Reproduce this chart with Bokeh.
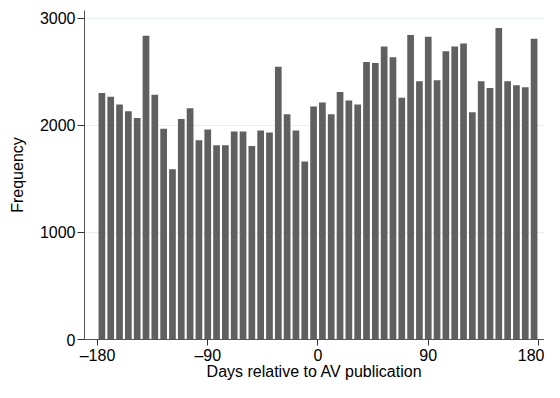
from bokeh.plotting import figure
from bokeh.models import FixedTicker, Range1d, CustomJSTickFormatter
from bokeh.embed import file_html
from bokeh.resources import INLINE

# Histogram: 50 bins of 7.2 days from -180 to 180
bin_start = -180.0
bin_width = 7.2
counts = [2304, 2268, 2196, 2132, 2069, 2837, 2286, 1970, 1590, 2060,
          2160, 1861, 1961, 1816, 1816, 1943, 1943, 1807, 1952, 1934,
          2548, 2105, 1952, 1663, 2178, 2214, 2105, 2313, 2232, 2196,
          2593, 2584, 2738, 2638, 2259, 2846, 2413, 2828, 2422, 2693,
          2738, 2765, 2123, 2413, 2349, 2910, 2413, 2376, 2358, 2810]
x_ticks = [-180, -90, 0, 90, 180]
y_ticks = [0, 1000, 2000, 3000]

centers = [bin_start + bin_width * (i + 0.5) for i in range(len(counts))]

FONT = "Liberation Sans"

p = figure(width=544, height=382, output_backend="svg", toolbar_location=None,
           x_range=Range1d(-190.6, 184.9), y_range=Range1d(0, 3074),
           min_border_left=84, min_border_right=0, min_border_top=10,
           background_fill_color="white", border_fill_color="white")
p.outline_line_color = None

p.vbar(x=centers, top=counts, width=bin_width * 0.76, bottom=0,
       fill_color="#606060", line_color=None)

# grid
p.xgrid.visible = False
p.ygrid.ticker = FixedTicker(ticks=y_ticks)
p.ygrid.grid_line_color = "#e6eff1"
p.ygrid.grid_line_width = 1

for ax in (p.xaxis[0], p.yaxis[0]):
    ax.axis_line_color = "#555555"
    ax.axis_line_width = 1
    ax.major_tick_line_color = "#333333"
    ax.major_tick_in = 0
    ax.major_tick_out = 7
    ax.minor_tick_out = 0
    ax.minor_tick_in = 0
    ax.major_label_text_font = FONT
    ax.major_label_text_font_size = "16px"
    ax.major_label_text_color = "black"
    ax.axis_label_text_font = FONT
    ax.axis_label_text_font_size = "16px"
    ax.axis_label_text_font_style = "normal"
    ax.axis_label_text_color = "black"
    ax.major_label_standoff = 2

p.xaxis.major_tick_out = 6
p.xaxis.major_label_standoff = 1
p.xaxis.ticker = FixedTicker(ticks=x_ticks)
p.yaxis.ticker = FixedTicker(ticks=y_ticks)
p.xaxis.formatter = CustomJSTickFormatter(code="return tick < 0 ? '\u2013' + Math.abs(tick) : String(tick);")
p.yaxis.major_label_orientation = "horizontal"
p.xaxis.axis_label = "Days relative to AV publication"
p.yaxis.axis_label = "Frequency"
p.xaxis.axis_label_standoff = -4
p.yaxis.axis_label_standoff = 11

open("out.html", "w").write(file_html(p, INLINE))
